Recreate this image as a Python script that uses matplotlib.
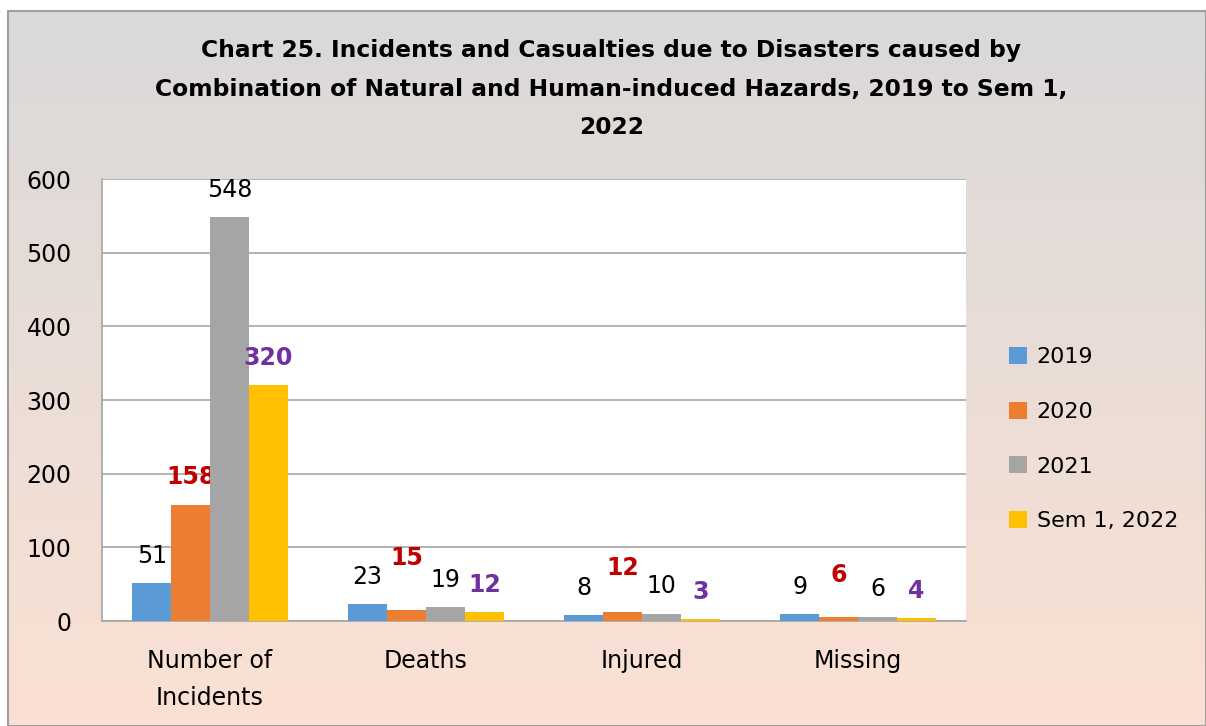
import matplotlib.pyplot as plt
import numpy as np
from matplotlib.patches import Rectangle

plt.rcParams['font.family'] = ['DejaVu Sans']

categories = ['Number of\nIncidents', 'Deaths', 'Injured', 'Missing']
series = ['2019', '2020', '2021', 'Sem 1, 2022']
v2019 = [51, 23, 8, 9]
v2020 = [158, 15, 12, 6]
v2021 = [548, 19, 10, 6]
v2022 = [320, 12, 3, 4]

colors = ['#5B9BD5', '#ED7D31', '#A5A5A5', '#FFC000']
label_colors = ['black', '#C00000', 'black', '#7030A0']
label_weights = ['normal', 'bold', 'normal', 'bold']

fig = plt.figure(figsize=(12.06, 7.26), dpi=100)

# gradient background inside a gray border
bg = fig.add_axes([0.0066, 0.0, 0.9934, 0.985], zorder=-10)
grad = np.linspace(0, 1, 256)[:, None]
top = np.array([217, 217, 217]) / 255
bot = np.array([251, 225, 211]) / 255
img = top[None, None, :] * (1 - grad[:, :, None]) + bot[None, None, :] * grad[:, :, None]
bg.imshow(img, aspect='auto', extent=[0, 1, 0, 1])
bg.set_xlim(0, 1)
bg.set_ylim(0, 1)
bg.axis('off')
bg.add_patch(Rectangle((0, 0), 1, 1, fill=False, edgecolor='#A0A0A0', lw=1.5,
                       transform=bg.transAxes, clip_on=False))

ax = fig.add_axes([0.0846, 0.1446, 0.7164, 0.6088])
ax.set_facecolor('white')

x = np.arange(len(categories))
w = 0.18
data = [v2019, v2020, v2021, v2022]
# extra lift (points) for small labels, as placed in the original
lift = [[0, 0, 0, 0], [0, 18, 12, 10], [0, 0, 0, 0], [0, 0, 0, 0]]
for i, vals in enumerate(data):
    xs = x + (i - 1.5) * w
    ax.bar(xs, vals, w, color=colors[i], label=series[i], zorder=3)
    for j, v in enumerate(vals):
        ax.annotate(str(v), (xs[j], v), xytext=(0, 11 + lift[i][j]),
                    textcoords='offset points', ha='center', va='bottom',
                    fontsize=17, color=label_colors[i], weight=label_weights[i])

ax.set_xlim(-0.5, 3.5)
ax.set_ylim(0, 600)
ax.set_yticks(range(0, 601, 100))
ax.set_xticks(x)
ax.set_xticklabels(categories, fontsize=17, linespacing=1.7)
ax.tick_params(axis='y', labelsize=17, length=0, pad=22)
ax.tick_params(axis='x', length=0, pad=20)
ax.yaxis.grid(True, color='#A6A6A6', linewidth=1.2, zorder=0)
ax.set_axisbelow(True)
for s in ['top', 'right']:
    ax.spines[s].set_visible(False)
for s in ['left', 'bottom']:
    ax.spines[s].set_color('#A6A6A6')
    ax.spines[s].set_linewidth(1.2)

fig.legend(loc='center left', bbox_to_anchor=(0.82, 0.395), frameon=False,
           fontsize=16, handlelength=0.8, handleheight=0.8, handletextpad=0.45,
           labelspacing=1.55)

fig.text(0.507, 0.946, 'Chart 25. Incidents and Casualties due to Disasters caused by\n'
         'Combination of Natural and Human-induced Hazards, 2019 to Sem 1,\n2022',
         ha='center', va='top', fontsize=16.8, weight='bold', linespacing=1.85)

fig.savefig('out.png', dpi=100)
